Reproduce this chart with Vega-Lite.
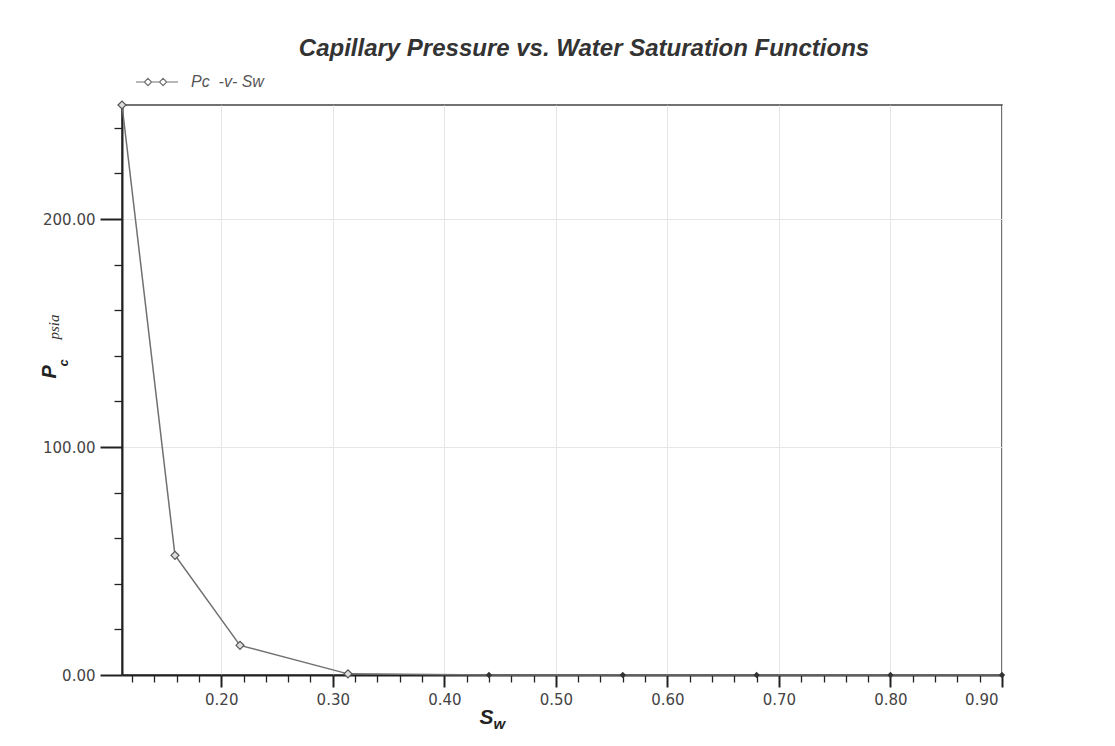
{
  "$schema": "https://vega.github.io/schema/vega-lite/v6.json",
  "width": 880,
  "height": 570,
  "autosize": {"type": "none"},
  "padding": {"left": 122, "top": 105, "right": 113, "bottom": 71},
  "background": "white",
  "title": {
    "text": "Capillary Pressure vs. Water Saturation Functions",
    "font": "Liberation Sans",
    "fontSize": 24,
    "fontWeight": "bold",
    "fontStyle": "italic",
    "color": "#333333",
    "anchor": "middle",
    "dx": 22,
    "offset": -20,
    "baseline": "alphabetic"
  },
  "data": {
    "values": [
      {"Sw": 0.111, "Pc": 250},
      {"Sw": 0.1585, "Pc": 52.5},
      {"Sw": 0.2168, "Pc": 13},
      {"Sw": 0.3136, "Pc": 0.5},
      {"Sw": 0.44, "Pc": 0},
      {"Sw": 0.56, "Pc": 0},
      {"Sw": 0.68, "Pc": 0},
      {"Sw": 0.80, "Pc": 0},
      {"Sw": 0.90, "Pc": 0}
    ]
  },
  "layer": [
    {
      "mark": {"type": "line", "strokeWidth": 1.5},
      "encoding": {
        "x": {
          "field": "Sw", "type": "quantitative",
          "scale": {"domain": [0.111, 0.9], "nice": false, "zero": false},
          "axis": {
            "orient": "bottom",
            "values": [0.2, 0.3, 0.4, 0.5, 0.6, 0.7, 0.8, 0.9],
            "format": ".2f",
            "tickSize": 12, "tickWidth": 2, "tickColor": "#222222",
            "domain": true, "domainColor": "#222222", "domainWidth": 2,
            "labelFont": "DejaVu Sans", "labelFontSize": 15, "labelColor": "#444444",
            "labelPadding": 5, "labelFlush": true, "labelFlushOffset": -4,
            "grid": true, "gridColor": "#e6e6e6", "gridWidth": 1,
            "title": "S",
            "titleFont": "Liberation Sans", "titleFontSize": 21, "titleFontWeight": "bold", "titleFontStyle": "italic",
            "titleColor": "#222222",
            "titleX": 364, "titleY": 48, "titleAlign": "center", "titleBaseline": "alphabetic"
          }
        },
        "y": {
          "field": "Pc", "type": "quantitative",
          "scale": {"domain": [0, 250], "nice": false, "zero": true},
          "axis": {
            "orient": "left",
            "values": [0, 100, 200],
            "format": ".2f",
            "tickSize": 22, "tickWidth": 2, "tickColor": "#222222",
            "domain": true, "domainColor": "#222222", "domainWidth": 2,
            "labelFont": "DejaVu Sans", "labelFontSize": 15, "labelColor": "#444444",
            "labelPadding": 5,
            "grid": true, "gridColor": "#e6e6e6", "gridWidth": 1,
            "title": "P",
            "titleFont": "Liberation Sans", "titleFontSize": 20, "titleFontWeight": "bold", "titleFontStyle": "italic",
            "titleColor": "#222222",
            "titleAngle": -90, "titleX": -67, "titleY": 273, "titleAlign": "left", "titleBaseline": "alphabetic"
          }
        },
        "color": {
          "datum": "Pc\u00a0\u00a0-v-\u00a0Sw",
          "scale": {"range": ["#707070"]},
          "legend": {
            "title": null,
            "orient": "none",
            "legendX": 13,
            "legendY": -45,
            "padding": 0,
            "symbolType": "M-1,0H-0.6M-0.26,0H0.12M0.46,0H1M-0.43,-0.17L-0.26,0L-0.43,0.17L-0.6,0ZM0.29,-0.17L0.46,0L0.29,0.17L0.12,0Z",
            "symbolSize": 1764,
            "symbolStrokeWidth": 1.2,
            "symbolFillColor": "white",
            "labelFont": "Liberation Sans",
            "labelFontStyle": "italic",
            "labelFontSize": 16,
            "labelColor": "#555555",
            "labelOffset": 12
          }
        }
      }
    },
    {
      "transform": [{"filter": "datum.Pc > 0"}],
      "mark": {"type": "point", "shape": "diamond", "size": 64, "filled": true, "fill": "#dddddd", "stroke": "#555555", "strokeWidth": 1.2, "opacity": 1},
      "encoding": {
        "x": {
          "field": "Sw", "type": "quantitative",
          "scale": {"domain": [0.111, 0.9], "nice": false, "zero": false},
          "axis": {
            "orient": "bottom",
            "values": [0.12, 0.14, 0.16, 0.18, 0.22, 0.24, 0.26, 0.28, 0.32, 0.34, 0.36, 0.38, 0.42, 0.44, 0.46, 0.48, 0.52, 0.54, 0.56, 0.58, 0.62, 0.64, 0.66, 0.68, 0.72, 0.74, 0.76, 0.78, 0.82, 0.84, 0.86, 0.88],
            "labels": false, "domain": false, "grid": false,
            "tickSize": 7, "tickWidth": 1.3, "tickColor": "#222222",
            "title": "w",
            "titleFont": "Liberation Sans", "titleFontSize": 15, "titleFontWeight": "bold", "titleFontStyle": "italic",
            "titleColor": "#222222",
            "titleX": 371, "titleY": 53, "titleAlign": "left", "titleBaseline": "alphabetic"
          }
        },
        "y": {
          "field": "Pc", "type": "quantitative",
          "scale": {"domain": [0, 250], "nice": false, "zero": true},
          "axis": {
            "orient": "left",
            "values": [20, 40, 60, 80, 120, 140, 160, 180, 220, 240],
            "labels": false, "domain": false, "grid": false,
            "tickSize": 8, "tickWidth": 1.3, "tickColor": "#222222",
            "title": "c",
            "titleFont": "Liberation Sans", "titleFontSize": 13, "titleFontWeight": "bold", "titleFontStyle": "italic",
            "titleColor": "#222222",
            "titleAngle": -90, "titleX": -55, "titleY": 261, "titleAlign": "left", "titleBaseline": "alphabetic"
          }
        }
      }
    },
    {
      "transform": [{"filter": "datum.Pc <= 0"}],
      "mark": {"type": "point", "shape": "diamond", "size": 40, "filled": true, "fill": "#333333", "opacity": 1},
      "encoding": {
        "x": {
          "field": "Sw", "type": "quantitative",
          "scale": {"domain": [0.111, 0.9], "nice": false, "zero": false},
          "axis": null
        },
        "y": {
          "field": "Pc", "type": "quantitative",
          "scale": {"domain": [0, 250], "nice": false, "zero": true},
          "axis": {
            "orient": "left",
            "values": [],
            "labels": false, "domain": false, "grid": false, "ticks": false,
            "title": "psia",
            "titleFont": "Liberation Serif", "titleFontSize": 15, "titleFontWeight": "normal", "titleFontStyle": "italic",
            "titleColor": "#333333",
            "titleAngle": -90, "titleX": -64, "titleY": 234, "titleAlign": "left", "titleBaseline": "alphabetic"
          }
        }
      }
    }
  ],
  "resolve": {"axis": {"x": "independent", "y": "independent"}},
  "config": {
    "view": {"stroke": "#444444", "strokeWidth": 1.5}
  }
}
